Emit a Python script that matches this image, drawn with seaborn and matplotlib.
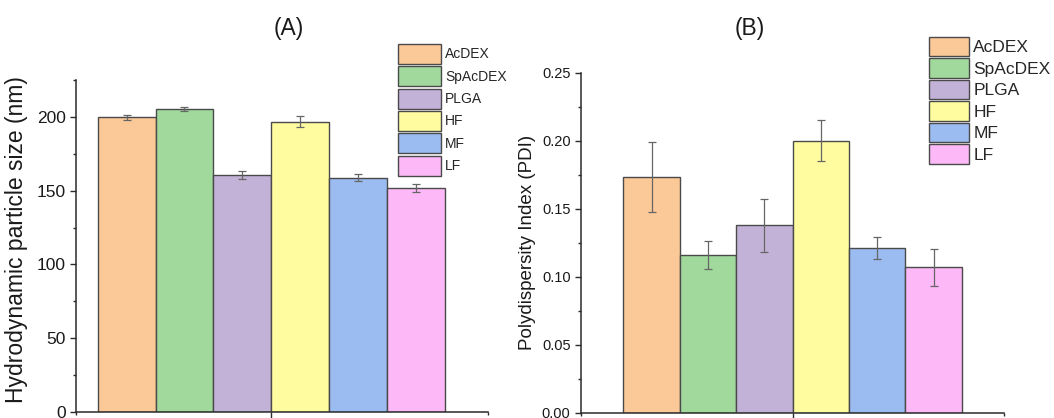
import matplotlib
matplotlib.use("Agg")
import matplotlib.pyplot as plt
import seaborn as sns
import pandas as pd
from matplotlib.ticker import MultipleLocator, FixedLocator, FormatStrFormatter

# Formulations and their fill colours
materials = ["AcDEX", "SpAcDEX", "PLGA", "HF", "MF", "LF"]
colors = ["#FBC898", "#A0D99B", "#C3B2D7", "#FFFC9F", "#9BBCF0", "#FDB8F7"]

# (A) hydrodynamic particle size, nm (mean and SD)
size_mean = [199.6, 205.4, 160.4, 196.8, 158.9, 151.7]
size_sd = [2.0, 1.5, 2.6, 3.9, 2.2, 2.8]

# (B) polydispersity index (mean and SD)
pdi_mean = [0.1733, 0.1162, 0.1378, 0.2000, 0.1213, 0.1070]
pdi_sd = [0.0255, 0.0105, 0.0195, 0.0150, 0.0080, 0.0135]

sns.set_theme(style="ticks")
plt.rcParams["font.family"] = ["Liberation Sans", "DejaVu Sans"]

W, H = 1054, 418
fig = plt.figure(figsize=(W / 100, H / 100), dpi=100)


def px_axes(left, top, right, bottom):
    return fig.add_axes([left / W, 1 - bottom / H, (right - left) / W, (bottom - top) / H])


ax_a = px_axes(76, 80, 488, 412)
ax_b = px_axes(581, 72.7, 1004, 413)

edge = "#4a4a4a"
axis_col = "#2b2b2b"


def draw_panel(ax, means, sds, ylabel, ylim, major, minor, xlim,
               tick_fs, label_fs, label_xy, leg_anchor, leg_kw):
    df = pd.DataFrame({"group": ["g"] * len(materials),
                       "material": materials,
                       "value": means})
    sns.barplot(data=df, x="group", y="value", hue="material",
                hue_order=materials, palette=colors, errorbar=None,
                width=0.8, edgecolor=edge, linewidth=1.0, saturation=1,
                ax=ax)
    # error bars centred on the drawn bars
    for cont, sd in zip(ax.containers, sds):
        bar = cont.patches[0]
        xc = bar.get_x() + bar.get_width() / 2
        ax.errorbar(xc, bar.get_height(), yerr=sd, fmt="none",
                    ecolor="#666666", elinewidth=0.9, capsize=3.0,
                    capthick=0.9, zorder=5)
    ax.set_xlim(*xlim)
    ax.set_ylim(*ylim)
    ax.set_xlabel("")
    ax.set_ylabel(ylabel, fontsize=label_fs, color="#1a1a1a")
    ax.yaxis.set_label_coords(*label_xy)
    ax.xaxis.set_major_locator(FixedLocator([0]))
    ax.xaxis.set_minor_locator(FixedLocator(list(xlim)))
    ax.set_xticklabels([""])
    ax.yaxis.set_major_locator(MultipleLocator(major))
    ax.yaxis.set_minor_locator(MultipleLocator(minor))
    ax.tick_params(axis="both", which="major", direction="out", length=4.5,
                   width=1.0, color=axis_col, labelsize=tick_fs,
                   labelcolor="#1a1a1a", pad=3)
    ax.tick_params(axis="both", which="minor", direction="out", length=2.5,
                   width=1.0, color=axis_col)
    for s in ("top", "right"):
        ax.spines[s].set_visible(False)
    for s in ("left", "bottom"):
        ax.spines[s].set_color(axis_col)
        ax.spines[s].set_linewidth(1.1)

    handles, labels = ax.get_legend_handles_labels()
    ax.legend(handles, labels, loc="upper left",
              bbox_to_anchor=leg_anchor, bbox_transform=fig.transFigure,
              frameon=False, borderpad=0, borderaxespad=0, **leg_kw)
    for h in ax.get_legend().get_patches():
        h.set_edgecolor(edge)
        h.set_linewidth(1.0)


draw_panel(ax_a, size_mean, size_sd, "Hydrodynamic particle size (nm)",
           (0, 225), 50, 25, (-0.45, 0.5), 12.5, 16.5,
           (-48 / 412, (412 - 240) / 332),
           (398 / W, 1 - 44 / H),
           dict(fontsize=10, handlelength=3.1, handleheight=1.84,
                labelspacing=0.165, handletextpad=0.3))
ax_a.yaxis.set_major_formatter(FormatStrFormatter("%d"))

draw_panel(ax_b, pdi_mean, pdi_sd, "Polydispersity Index (PDI)",
           (0, 0.25), 0.05, 0.025, (-0.5, 0.5), 10.5, 13.5,
           (-45 / 423, 0.5),
           (929 / W, 1 - 37 / H),
           dict(fontsize=12.5, handlelength=2.3, handleheight=1.33,
                labelspacing=0.127, handletextpad=0.25))
ax_b.yaxis.set_major_formatter(FormatStrFormatter("%.2f"))

fig.text(289 / W, 1 - 29 / H, "(A)", ha="center", va="center", fontsize=16.5, color="#1a1a1a")
fig.text(750 / W, 1 - 29 / H, "(B)", ha="center", va="center", fontsize=16.5, color="#1a1a1a")

fig.savefig("out.png", dpi=100)
